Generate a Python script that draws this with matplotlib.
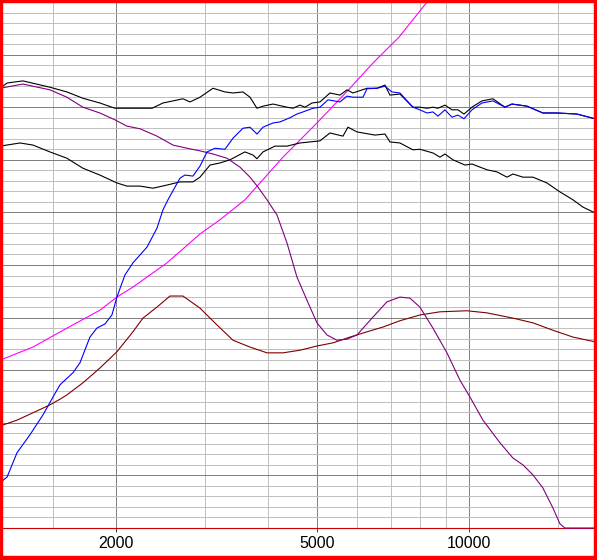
import matplotlib
matplotlib.use("Agg")
import matplotlib.pyplot as plt
from matplotlib.patches import Rectangle
from matplotlib.ticker import NullFormatter

# ---------------- data (frequency in Hz, level in dB) ----------------
f_top = [1177, 1216, 1307, 1478, 1597, 1718, 1856, 1988, 2158, 2354,
         2475, 2711, 2799, 2930, 3109, 3283, 3405, 3564, 3680, 3799,
         3905, 4087, 4356, 4477, 4622, 4729, 4882, 5063, 5299, 5546,
         5726, 5885, 6273, 6565, 6809, 6965, 7290, 7735, 7986, 8245,
         8474, 8670, 8951, 9241, 9497, 9762, 10125, 10597, 11142, 11768,
         12149, 13007, 13991, 14914, 16337, 17742]
l_top = [83.6, 84.6, 85.0, 83.8, 82.9, 81.7, 80.8, 79.8, 79.8, 79.8,
         80.8, 81.6, 81.0, 81.9, 83.6, 82.9, 82.7, 82.9, 81.9, 79.8,
         80.2, 80.6, 80.0, 79.8, 80.4, 80.0, 80.8, 81.0, 82.7, 82.3,
         83.3, 82.7, 83.6, 83.6, 84.2, 82.3, 82.5, 80.0, 80.0, 79.8,
         80.0, 79.8, 80.4, 79.5, 79.5, 78.7, 80.0, 81.2, 81.6, 80.0,
         80.6, 80.2, 78.9, 78.9, 78.7, 77.8]

f_blue = [1177, 1216, 1272, 1349, 1432, 1499, 1547, 1641, 1695, 1774,
          1831, 1900, 1961, 2006, 2081, 2158, 2301, 2408, 2475, 2532,
          2674, 2735, 2837, 2930, 3025, 3137, 3283, 3405, 3564, 3680,
          3799, 3905, 4087, 4219, 4416, 4559, 4686, 4904, 5063, 5251,
          5546, 5726, 5885, 6160, 6273, 6565, 6809, 7029, 7290, 7735,
          7986, 8245, 8474, 8670, 8951, 9241, 9497, 9762, 10125, 10597,
          11142, 11768, 12149, 13007, 13991, 14914, 16337, 17742]
l_blue = [8.6, 9.7, 14.3, 17.7, 21.5, 24.9, 27.2, 29.5, 31.4, 36.3,
          38.0, 38.8, 40.5, 43.9, 48.1, 50.4, 53.4, 57.0, 60.5, 62.4,
          66.5, 67.1, 66.9, 68.8, 71.5, 72.2, 72.0, 74.1, 76.0, 76.2,
          74.9, 76.2, 77.0, 77.2, 78.0, 78.7, 79.1, 79.8, 80.0, 81.4,
          81.0, 82.1, 81.9, 81.9, 83.5, 83.6, 84.0, 82.9, 82.7, 80.0,
          79.5, 78.9, 79.1, 78.3, 79.5, 78.1, 78.5, 77.8, 79.5, 80.8,
          81.2, 80.0, 80.6, 80.2, 78.9, 78.9, 78.7, 77.8]

f_purple = [1177, 1307, 1478, 1597, 1718, 1856, 1988, 2100, 2229, 2408,
            2590, 2761, 2930, 3109, 3313, 3516, 3680, 3817, 3977, 4162,
            4356, 4559, 4772, 4994, 5227, 5471, 5726, 5994, 6447, 6871,
            7290, 7630, 7986, 8474, 9033, 9585, 10033, 10645, 11503, 12205,
            12772, 13368, 13991, 14645, 15120, 15468, 17742]
l_purple = [83.6, 84.4, 83.3, 81.9, 80.0, 78.9, 77.6, 76.4, 75.9, 74.5,
            72.8, 72.2, 71.7, 71.1, 70.3, 68.6, 66.7, 64.8, 62.4, 59.5,
            54.2, 47.7, 43.3, 39.0, 36.7, 35.7, 35.9, 36.7, 40.1, 43.0,
            43.9, 43.7, 42.0, 38.0, 33.3, 28.1, 24.9, 20.5, 16.2, 13.3,
            12.0, 10.1, 7.6, 3.8, 0.8, 0.0, 0.0]

f_magenta = [1177, 1368, 1597, 1856, 2006, 2158, 2520, 2930, 3209, 3597,
             4277, 4994, 5805, 6447, 7257, 8283, 8749]
l_magenta = [31.9, 34.4, 38.0, 41.4, 43.9, 45.8, 50.4, 55.9, 58.6, 62.4,
             70.5, 77.0, 83.6, 88.4, 93.3, 100.2, 103.0]

f_low = [1177, 1290, 1368, 1478, 1597, 1718, 1856, 2006, 2100, 2229,
         2365, 2520, 2674, 2837, 2930, 3067, 3209, 3359, 3597, 3731,
         3799, 3905, 4124, 4356, 4622, 4838, 5063, 5299, 5623, 5752,
         5994, 6160, 6506, 6809, 6965, 7290, 7735, 7986, 8474, 8749,
         8951, 9283, 9807, 10125, 10842, 11347, 11876, 12205, 12772, 13368,
         14249, 15120, 16042, 16796, 17742]
l_low = [72.6, 73.2, 72.8, 71.5, 70.3, 68.4, 67.1, 65.6, 65.0, 65.0,
         64.6, 65.2, 65.8, 65.8, 66.7, 69.0, 69.4, 70.0, 71.5, 70.9,
         70.2, 71.5, 72.6, 72.6, 73.2, 73.4, 73.6, 75.1, 74.5, 76.2,
         75.3, 75.1, 74.7, 74.9, 73.4, 73.2, 71.9, 72.0, 71.3, 70.5,
         71.1, 70.0, 69.0, 69.2, 68.1, 67.7, 66.7, 67.3, 66.7, 66.7,
         65.6, 63.9, 62.4, 61.0, 59.9]

f_maroon = [1177, 1272, 1368, 1478, 1561, 1597, 1718, 1856, 2006, 2158,
            2259, 2408, 2555, 2711, 2930, 3166, 3405, 3680, 3977, 4277,
            4622, 4994, 5372, 5805, 6273, 6747, 7290, 7986, 8749, 9897,
            10842, 12205, 13368, 14645, 16042, 17742]
l_maroon = [19.4, 20.5, 21.9, 23.4, 24.7, 25.3, 27.6, 30.4, 33.5, 37.3,
            39.9, 42.0, 44.1, 44.1, 41.8, 38.6, 35.7, 34.4, 33.3, 33.3,
            33.8, 34.6, 35.2, 36.3, 37.3, 38.2, 39.4, 40.5, 41.1, 41.3,
            40.9, 39.9, 39.0, 37.6, 36.3, 35.4]

major_ticks = [2000, 5000, 10000]
tick_labels = ["2000", "5000", "10000"]
minor_ticks = [1500, 3000, 4000, 6000, 7000, 8000, 9000, 15000]
x_range = (1188, 17661)
y_range = (0, 100)

# ---------------- figure ----------------
W, H = 597, 560
fig = plt.figure(figsize=(W / 100, H / 100), dpi=100)
fig.patch.set_facecolor("white")
ax = fig.add_axes([2 / W, 32 / H, 592 / W, 526 / H])
ax.set_facecolor("white")

ax.set_xscale("log")
ax.set_xlim(*x_range)
ax.set_ylim(*y_range)

ax.set_xticks(major_ticks)
ax.set_xticklabels(tick_labels)
ax.set_xticks(minor_ticks, minor=True)
ax.xaxis.set_minor_formatter(NullFormatter())
ax.set_yticks(range(0, 101, 10))
ax.set_yticks(range(0, 101, 2), minor=True)
ax.tick_params(axis="y", which="both", length=0, labelleft=False)
ax.tick_params(axis="x", which="minor", length=0)
ax.tick_params(axis="x", which="major", length=3, width=0.72, color="#404040",
               direction="out", pad=3, labelsize=11.5)
for lab in ax.get_xticklabels():
    lab.set_fontfamily("Liberation Sans")

ax.grid(True, which="minor", color="#c0c0c0", linewidth=0.72, antialiased=False)
ax.grid(True, which="major", color="#808080", linewidth=0.72, antialiased=False)
ax.set_axisbelow(True)

for s in ["left", "top", "right"]:
    ax.spines[s].set_visible(False)
ax.spines["bottom"].set_color("#cc0000")
ax.spines["bottom"].set_linewidth(0.8)

lw = 0.8
ax.plot(f_magenta, l_magenta, color="#ff00ff", lw=lw, zorder=3)
ax.plot(f_maroon, l_maroon, color="#800000", lw=lw, zorder=3)
ax.plot(f_low, l_low, color="#000000", lw=lw, zorder=3)
ax.plot(f_purple, l_purple, color="#800080", lw=lw, zorder=3, clip_on=False)
ax.plot(f_top, l_top, color="#000000", lw=lw, zorder=4)
ax.plot(f_blue, l_blue, color="#0000ff", lw=lw, zorder=4)

# red frame around image
red = "#ff0000"
fig.patches.extend([
    Rectangle((0, 0), 2 / W, 1, transform=fig.transFigure, color=red, zorder=10),
    Rectangle((594 / W, 0), 3 / W, 1, transform=fig.transFigure, color=red, zorder=10),
    Rectangle((0, 558 / H), 1, 2 / H, transform=fig.transFigure, color=red, zorder=10),
    Rectangle((0, 0), 1, 4 / H, transform=fig.transFigure, color=red, zorder=10),
])

fig.savefig("out.png", dpi=100)
